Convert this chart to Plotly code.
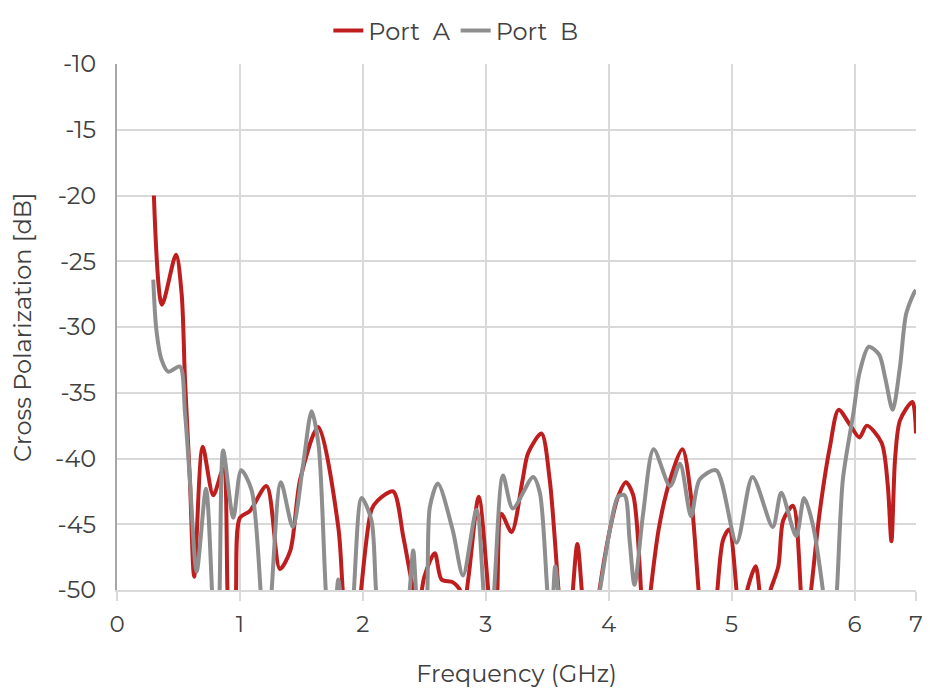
import plotly.graph_objects as go

# Port A (red)
freq_a = [0.30, 0.366, 0.48, 0.526, 0.553, 0.593, 0.628, 0.697, 0.783, 0.864, 0.90, 0.935, 0.967,
          1.0, 1.08, 1.217, 1.325, 1.41, 1.49, 1.637, 1.80, 1.84, 1.91, 1.98, 2.07, 2.12, 2.246,
          2.33, 2.40, 2.45, 2.50, 2.585, 2.64, 2.73, 2.79, 2.82, 2.86, 2.943, 3.03, 3.06, 3.09,
          3.127, 3.21, 3.30, 3.344, 3.453, 3.52, 3.60, 3.65, 3.70, 3.745, 3.79, 3.85, 3.91, 4.01,
          4.076, 4.14, 4.20, 4.27, 4.30, 4.33, 4.41, 4.50, 4.60, 4.67, 4.74, 4.81, 4.875, 4.93,
          4.98, 5.05, 5.075, 5.10, 5.195, 5.24, 5.275, 5.31, 5.38, 5.42, 5.50, 5.57, 5.60, 5.634,
          5.715, 5.80, 5.87, 5.96, 6.04, 6.10, 6.22, 6.27, 6.30, 6.33, 6.37, 6.47, 6.50]
db_a = [-20.0, -28.3, -24.5, -27.5, -34.0, -41.6, -49.0, -39.1, -42.8, -40.8, -50.5, -57, -50.5,
        -44.5, -44.0, -42.1, -48.4, -47.0, -41.6, -37.6, -45.2, -50.5, -57, -50.5, -43.9, -43.2, -42.5,
        -46.0, -49.5, -51.5, -49.0, -47.2, -49.2, -49.4, -50.0, -51.5, -49.0, -42.9, -51.0, -53.0, -51.0,
        -44.2, -45.6, -41.6, -39.6, -38.1, -41.6, -51.0, -56.0, -51.0, -46.5, -51.0, -56.0, -51.0, -45.4,
        -42.9, -41.8, -42.8, -51.0, -54.0, -51.0, -45.2, -41.6, -39.3, -42.9, -51.0, -57.0, -51.0, -46.2,
        -45.4, -51.0, -52.5, -51.0, -48.2, -51.0, -52.0, -50.2, -48.2, -44.7, -43.6, -51.0, -53.0, -51.0,
        -44.2, -39.1, -36.3, -37.4, -38.4, -37.5, -38.8, -42.0, -46.3, -40.0, -37.1, -35.7, -38.1]

# Port B (grey)
freq_b = [0.295, 0.32, 0.363, 0.417, 0.512, 0.553, 0.593, 0.648, 0.724, 0.778, 0.805, 0.832, 0.864,
          0.946, 1.01, 1.095, 1.176, 1.21, 1.25, 1.333, 1.43, 1.515, 1.583, 1.64, 1.705, 1.745, 1.785,
          1.80, 1.82, 1.87, 1.92, 1.99, 2.07, 2.116, 2.24, 2.37, 2.41, 2.44, 2.48, 2.52, 2.545, 2.61,
          2.73, 2.815, 2.925, 2.99, 3.025, 3.06, 3.14, 3.22, 3.385, 3.44, 3.51, 3.535, 3.565, 3.60,
          3.75, 3.91, 4.01, 4.076, 4.13, 4.17, 4.21, 4.28, 4.366, 4.50, 4.58, 4.67, 4.74, 4.875,
          5.04, 5.17, 5.335, 5.404, 5.525, 5.59, 5.66, 5.756, 5.80, 5.85, 5.905, 5.99, 6.04, 6.116,
          6.20, 6.25, 6.31, 6.37, 6.42, 6.49, 6.50]
db_b = [-26.4, -30.2, -32.5, -33.4, -33.0, -36.5, -41.6, -48.6, -42.3, -51.0, -55.0, -51.0, -39.4,
        -44.5, -40.9, -42.4, -51.0, -54.0, -51.0, -41.8, -45.2, -40.4, -36.4, -39.0, -51.0, -54.0, -50.5,
        -49.2, -50.5, -55.0, -51.0, -43.0, -44.7, -51.0, -57.0, -51.0, -47.0, -51.0, -53.0, -51.0, -43.7, -41.9,
        -45.4, -48.9, -43.9, -51.0, -53.0, -51.0, -41.3, -43.8, -41.4, -42.6, -51.0, -52.0, -48.2, -51.0,
        -58.0, -51.0, -45.4, -42.9, -42.8, -46.2, -49.6, -44.2, -39.3, -42.1, -40.4, -44.4, -41.6, -40.9,
        -46.4, -41.4, -45.2, -42.6, -45.9, -43.0, -45.0, -51.0, -55.0, -51.0, -41.6, -36.6, -33.5, -31.5,
        -32.1, -33.9, -36.3, -33.0, -29.0, -27.3, -27.2]

x_tickvals = [0, 1, 2, 3, 4, 5, 6, 6.5]
x_ticktext = ["0", "1", "2", "3", "4", "5", "6", "7"]
y_tickvals = [-50, -45, -40, -35, -30, -25, -20, -15, -10]
y_ticktext = ["-50", "-45", "-40", "-35", "-30", "-25", "-20", "-15", "-10"]

FONT = "Montserrat, 'Open Sans', 'Noto Sans', sans-serif"

fig = go.Figure()
fig.add_trace(go.Scatter(x=freq_a, y=db_a, mode="lines", name="Port \u00a0A",
                         line=dict(color="#BE1E1E", width=4, shape="spline", smoothing=0.8)))
fig.add_trace(go.Scatter(x=freq_b, y=db_b, mode="lines", name="Port \u00a0B",
                         line=dict(color="#8E8E8E", width=4, shape="spline", smoothing=0.8)))

fig.update_layout(
    width=914, height=680,
    margin=dict(l=109, r=6, t=56, b=98, autoexpand=False),
    paper_bgcolor="white", plot_bgcolor="white",
    font=dict(family=FONT, size=21, color="#404040"),
    showlegend=True,
    legend=dict(orientation="h", xref="container", x=0.49, xanchor="center",
                y=1.063, yanchor="middle",
                font=dict(size=24, color="#404040"), bgcolor="rgba(0,0,0,0)",
                itemwidth=30, tracegroupgap=0),
    xaxis=dict(range=[0, 6.5], tickvals=x_tickvals, ticktext=x_ticktext,
               showgrid=True, gridcolor="#D9D9D9", gridwidth=1.5,
               ticks="outside", ticklen=9, tickcolor="#D9D9D9", tickwidth=1.5,
               ticklabelstandoff=4, ticklabeloverflow="allow",
               tickfont=dict(size=23),
               showline=True, linecolor="#D9D9D9", linewidth=1.5, zeroline=False,
               title=dict(text="Frequency (GHz)", font=dict(size=24), standoff=28)),
    yaxis=dict(range=[-50, -10], tickvals=y_tickvals, ticktext=y_ticktext,
               showgrid=True, gridcolor="#D9D9D9", gridwidth=1.5,
               showline=True, linecolor="#A6A6A6", linewidth=2, zeroline=False,
               ticks="outside", ticklen=14, tickcolor="rgba(0,0,0,0)",
               tickfont=dict(size=24)),
    annotations=[dict(text="Cross Polarization [dB]", xref="paper", yref="paper",
                      x=-0.119, y=0.5, xanchor="center", yanchor="middle",
                      textangle=-90, showarrow=False,
                      font=dict(size=24, color="#404040"))],
)

fig.write_html("out.html")
